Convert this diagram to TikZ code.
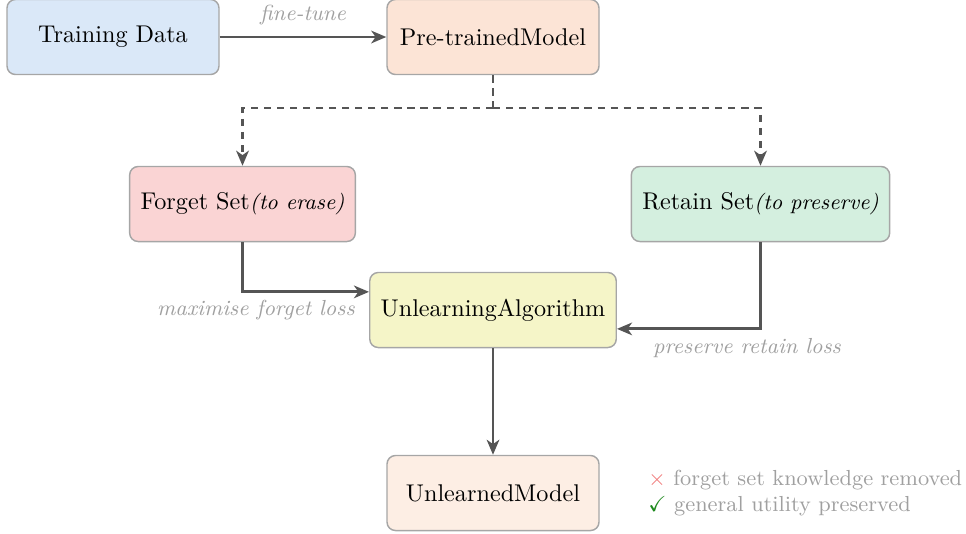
\documentclass[tikz,border=0pt]{standalone}
\usepackage{amssymb}
\usetikzlibrary{arrows.meta,positioning}

\definecolor{dataFill}{HTML}{DAE8F8}
\definecolor{modelFill}{HTML}{FCE4D6}
\definecolor{forgetFill}{HTML}{FAD4D4}
\definecolor{retainFill}{HTML}{D4EFDF}
\definecolor{algoFill}{HTML}{F5F5C8}
\definecolor{resultFill}{HTML}{FDEEE4}
\definecolor{boxLine}{HTML}{A6A6A6}
\definecolor{flowLine}{HTML}{555555}
\definecolor{noteText}{HTML}{A0A0A0}
\definecolor{crossRed}{HTML}{F07878}
\definecolor{tickGreen}{HTML}{1E8A1E}

\tikzset{
  stagebox/.style={draw=boxLine, line width=0.6pt, rounded corners=3.5pt,
    minimum width=87.6pt, minimum height=31pt, inner xsep=4.5pt,
    align=center, font=\normalsize},
  flow/.style={draw=flowLine, line width=1.2pt,
    -{Stealth[length=6.2pt,width=5.2pt,inset=1.8pt]}},
  branch/.style={flow, dash pattern=on 3pt off 2.4pt},
  note/.style={text=noteText, font=\small\itshape},
}

\begin{document}
\begin{tikzpicture}[x=0.41322pt, y=-0.41322pt]
  \useasboundingbox (0,0) rectangle (966,533);

  % pipeline stages
  \node[stagebox, fill=dataFill]   (data)   at (113,37)    {Training Data};
  \node[stagebox, fill=modelFill]  (model)  at (493,37)    {Pre-trainedModel};
  \node[stagebox, fill=forgetFill] (forget) at (242.5,204) {Forget Set{\small\itshape(to erase)}};
  \node[stagebox, fill=retainFill] (retain) at (760.5,204) {Retain Set{\small\itshape(to preserve)}};
  \node[stagebox, fill=algoFill]   (algo)   at (493,310)   {UnlearningAlgorithm};
  \node[stagebox, fill=resultFill] (result) at (493,493)   {UnlearnedModel};

  % fine-tuning
  \draw[flow] (data.east) -- node[note, above=1pt] {fine-tune} (model.west);

  % split of the model's data into forget / retain sets
  \coordinate (split) at (493,108);
  \draw[branch, -] (model.south) -- (split);
  \draw[branch] (split) -| (forget.north);
  \draw[branch] (split) -| (retain.north);

  % inputs to the unlearning algorithm
  \draw[flow] (forget.south) |- ([yshift=7.5pt]algo.west);
  \draw[flow] (retain.south) |- ([yshift=-7.8pt]algo.east);
  \node[note, anchor=east] (maxlbl) at ([xshift=-2.4pt]algo.west) {maximise forget loss};
  \node[note] (keeplbl) at (747,348) {preserve retain loss};

  % result
  \draw[flow] (algo.south) -- (result.north);

  % outcome legend
  \node[anchor=west, align=left, font=\small, text=noteText, inner sep=0pt]
    (legend) at (648,493)
    {{\color{crossRed}$\times$} forget set knowledge removed\\
     {\color{tickGreen}$\checkmark$} general utility preserved};
\end{tikzpicture}
\end{document}
